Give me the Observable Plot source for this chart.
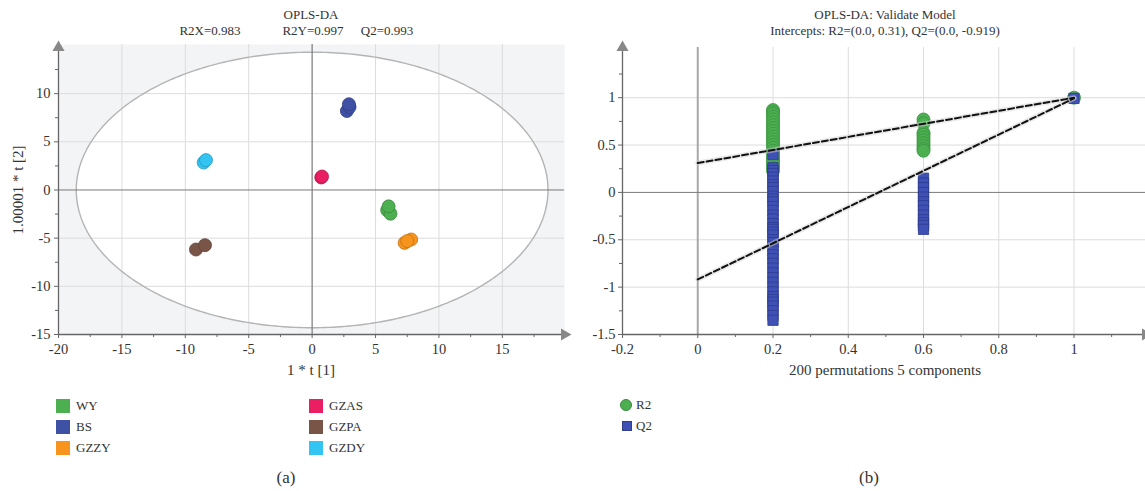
<!DOCTYPE html>
<html><head><meta charset="utf-8">
<script src="https://cdn.jsdelivr.net/npm/d3@7"></script>
<script src="https://cdn.jsdelivr.net/npm/@observablehq/plot@0.6"></script>
<style>
body{margin:0;background:#fff;font-family:"Liberation Serif",serif;color:#333;}
#wrap{position:relative;width:1145px;height:491px;overflow:hidden;}
#wrap svg, #wrap svg text{font-family:"Liberation Serif",serif !important;}
.abs{position:absolute;white-space:nowrap;line-height:1;}
.c{transform:translate(-50%,-50%);}
.sq{position:absolute;width:14px;height:14px;}
</style></head><body><div id="wrap"></div>
<script>
// ---------- Panel (a): OPLS-DA score plot ----------
const groups = ["WY", "BS", "GZZY", "GZAS", "GZPA", "GZDY"];
const groupColors = ["#4caf50", "#3f51a5", "#f7941d", "#e91e63", "#795548", "#33c4f2"];
const scoreGroup = ["BS","BS","BS","GZDY","GZDY","GZAS","GZAS","WY","WY","WY","GZZY","GZZY","GZZY","GZPA","GZPA"];
const scoreT1 =    [2.74, 2.95, 2.9, -8.55, -8.37, 0.72, 0.78, 5.92, 6.18, 6.03, 7.29, 7.81, 7.5, -9.16, -8.45];
const scoreT2 =    [8.2, 8.6, 8.9, 2.85, 3.1, 1.3, 1.4, -2.1, -2.46, -1.7, -5.49, -5.14, -5.3, -6.18, -5.73];
const ellipseA = 18.6, ellipseB = 14.3;
const xTicksA = [-20, -15, -10, -5, 0, 5, 10, 15];
const xMinorA = [-17.5, -12.5, -7.5, -2.5, 2.5, 7.5, 12.5, 17.5];
const yTicksA = [-15, -10, -5, 0, 5, 10];
const yMinorA = [-12.5, -7.5, -2.5, 2.5, 7.5, 12.5];

// ---------- Panel (b): permutation validation ----------
const r2At02 = [0.87, 0.85, 0.83, 0.80, 0.77, 0.74, 0.71, 0.68, 0.65, 0.62, 0.59, 0.56, 0.53, 0.50, 0.47, 0.44, 0.41, 0.38, 0.35, 0.32, 0.29, 0.26, 0.23];
const r2At06 = [0.77, 0.73, 0.63, 0.61, 0.58, 0.55, 0.52, 0.49, 0.46, 0.44];
const q2At02 = [0.40, 0.26, 0.23, 0.20, 0.16, 0.12, 0.08, 0.05, 0.01, -0.04, -0.07, -0.10, -0.15, -0.19, -0.24, -0.28, -0.33, -0.37, -0.39, -0.42, -0.45, -0.50, -0.53, -0.57, -0.62, -0.66, -0.70, -0.75, -0.80, -0.85, -0.90, -0.95, -1.00, -1.05, -1.10, -1.13, -1.16, -1.20, -1.25, -1.30, -1.35];
const q2At06 = [0.15, 0.10, 0.05, 0.0, -0.05, -0.10, -0.14, -0.19, -0.24, -0.29, -0.32, -0.35, -0.39];
const origR2 = 1.0, origQ2 = 0.993;
const r2Intercept = 0.31, q2Intercept = -0.919;
const xTicksB = [-0.2, 0, 0.2, 0.4, 0.6, 0.8, 1];
const xMinorB = [-0.1, 0.1, 0.3, 0.5, 0.7, 0.9, 1.1];
const yTicksB = [-1.5, -1, -0.5, 0, 0.5, 1];
const yMinorB = [-1.25, -0.75, -0.25, 0.25, 0.75, 1.25];

const wrap = document.getElementById("wrap");
const font = "font-family: 'Liberation Serif', serif; font-size: 14px; color: #333; background: transparent; overflow: visible;";

// table for (a)
const scores = scoreGroup.map((g, i) => ({group: g, t1: scoreT1[i], t2: scoreT2[i]}));
const colorOf = g => groupColors[groups.indexOf(g)];
const ang = d3.range(0, 181).map(k => k * Math.PI / 180);
const ellUpper = ang.map(t => ({x: ellipseA * Math.cos(t), y1: -ellipseB * Math.sin(t), y2: ellipseB * Math.sin(t)}));
const ellLoop = d3.range(0, 361).map(k => ({x: ellipseA * Math.cos(k * Math.PI / 180), y: ellipseB * Math.sin(k * Math.PI / 180)}));

const xMaxA = 19.9, yTopA = 15.1, yArrowA = 14.8;
const plotA = Plot.plot({
  width: 570, height: 390, marginLeft: 58, marginRight: 6, marginTop: 44, marginBottom: 56,
  x: {domain: [-20, xMaxA]}, y: {domain: [-15, yTopA]},
  style: font,
  marks: [
    Plot.frame({fill: "#f3f4f6", stroke: null}),
    Plot.areaY(ellUpper, {x: "x", y1: "y1", y2: "y2", fill: "white"}),
    Plot.ruleX(xTicksA.filter(d => d !== 0 && d !== -20), {stroke: "#dcdcdc", strokeWidth: 1}),
    Plot.ruleY(yTicksA.filter(d => d !== 0 && d !== -15), {stroke: "#dcdcdc", strokeWidth: 1}),
    Plot.line(ellLoop, {x: "x", y: "y", stroke: "#b4b4b4", strokeWidth: 1.4}),
    Plot.ruleX([0], {stroke: "#7a7a7a", strokeWidth: 1.2}),
    Plot.ruleY([0], {stroke: "#7a7a7a", strokeWidth: 1}),
    Plot.ruleY([-15], {stroke: "#666", strokeWidth: 1.3}),
    Plot.ruleX([-20], {y1: -15, y2: yArrowA, stroke: "#666", strokeWidth: 1.3}),
    Plot.dot([[xMaxA, -15]], {x: d => d[0], y: d => d[1], symbol: "triangle", rotate: 90, r: 4.5, fill: "#888", stroke: null}),
    Plot.dot([[-20, yArrowA]], {x: d => d[0], y: d => d[1], symbol: "triangle", r: 4.5, fill: "#888", stroke: null}),
    Plot.axisX(xTicksA, {tickSize: 4, tickPadding: 5, tickFormat: d => String(d), label: null, stroke: "#666", fontSize: 14.5}),
    Plot.axisX(xMinorA, {tickSize: 3, tickFormat: () => "", label: null, stroke: "#666"}),
    Plot.axisY(yTicksA, {tickSize: 4, tickPadding: 4, tickFormat: d => String(d), label: null, stroke: "#666", fontSize: 14.5}),
    Plot.axisY(yMinorA, {tickSize: 3, tickFormat: () => "", label: null, stroke: "#666"}),
    Plot.dot(scores, {x: "t1", y: "t2", r: 6.5, fill: d => colorOf(d.group), stroke: d => d3.color(colorOf(d.group)).darker(0.7).formatHex(), strokeWidth: 0.8})
  ]
});
plotA.style.position = "absolute"; plotA.style.left = "0px"; plotA.style.top = "0px";
wrap.appendChild(plotA);

// table for (b)
const perm = [];
r2At02.forEach(v => perm.push({x: 0.2, y: v, kind: "R2"}));
r2At06.forEach(v => perm.push({x: 0.6, y: v, kind: "R2"}));
perm.push({x: 1, y: origR2, kind: "R2"});
const permQ = [];
q2At02.forEach(v => permQ.push({x: 0.2, y: v, kind: "Q2"}));
q2At06.forEach(v => permQ.push({x: 0.6, y: v, kind: "Q2"}));
permQ.push({x: 1, y: origQ2, kind: "Q2"});
const r2Line = [{x: 0, y: r2Intercept}, {x: 1, y: origR2}];
const q2Line = [{x: 0, y: q2Intercept}, {x: 1, y: origQ2}];

const xMaxB = 1.19, yMaxB = 1.53;
const plotB = Plot.plot({
  width: 585, height: 390, marginLeft: 62, marginRight: 0, marginTop: 47, marginBottom: 56,
  x: {domain: [-0.2, xMaxB]}, y: {domain: [-1.5, yMaxB]},
  style: font,
  marks: [
    Plot.ruleX(xTicksB.filter(d => d > 0), {stroke: "#dcdcdc"}),
    Plot.ruleY(yTicksB.filter(d => d !== 0 && d !== -1.5), {stroke: "#dcdcdc"}),
    Plot.ruleX([0], {stroke: "#a8a8a8", strokeWidth: 2}),
    Plot.ruleY([0], {stroke: "#7a7a7a", strokeWidth: 1}),
    Plot.ruleY([-1.5], {stroke: "#666", strokeWidth: 1.3}),
    Plot.ruleX([-0.2], {stroke: "#666", strokeWidth: 1.3}),
    Plot.dot([[xMaxB, -1.5]], {x: d => d[0], y: d => d[1], symbol: "triangle", rotate: 90, r: 4.5, fill: "#888", stroke: null}),
    Plot.dot([[-0.2, yMaxB]], {x: d => d[0], y: d => d[1], symbol: "triangle", r: 4.5, fill: "#888", stroke: null}),
    Plot.axisX(xTicksB, {tickSize: 4, tickPadding: 5, tickFormat: d => String(d), label: null, stroke: "#666", fontSize: 14.5}),
    Plot.axisX(xMinorB, {tickSize: 3, tickFormat: () => "", label: null, stroke: "#666"}),
    Plot.axisY(yTicksB, {tickSize: 4, tickPadding: 3, tickFormat: d => String(d), label: null, stroke: "#666", fontSize: 14.5}),
    Plot.axisY(yMinorB, {tickSize: 3, tickFormat: () => "", label: null, stroke: "#666"}),
    Plot.dot(perm, {x: "x", y: "y", r: 6.5, fill: "#4caf50", stroke: "#3a9440", strokeWidth: 0.8}),
    Plot.dot(permQ, {x: "x", y: "y", symbol: "square", r: 5.8, fill: "#3f51b5", stroke: "#2d3c8e", strokeWidth: 0.8}),
    Plot.line(r2Line, {x: "x", y: "y", stroke: "#d4d4d4", strokeWidth: 5, strokeOpacity: 0.5}),
    Plot.line(q2Line, {x: "x", y: "y", stroke: "#d4d4d4", strokeWidth: 5, strokeOpacity: 0.5}),
    Plot.line(r2Line, {x: "x", y: "y", stroke: "#111", strokeWidth: 2, strokeDasharray: "6,3"}),
    Plot.line(q2Line, {x: "x", y: "y", stroke: "#111", strokeWidth: 2, strokeDasharray: "6,3"})
  ]
});
plotB.style.position = "absolute"; plotB.style.left = "560px"; plotB.style.top = "0px";
wrap.appendChild(plotB);

// ---------- text ----------
function txt(s, x, y, size, extra) {
  const d = document.createElement("div");
  d.className = "abs c";
  d.textContent = s;
  d.style.left = x + "px"; d.style.top = y + "px"; d.style.fontSize = size + "px";
  if (extra) Object.assign(d.style, extra);
  wrap.appendChild(d);
  return d;
}
txt("OPLS-DA", 311, 14, 13);
txt("R2X=0.983", 210, 30, 13);
txt("R2Y=0.997", 313, 30, 13);
txt("Q2=0.993", 387, 30, 13);
txt("1 * t [1]", 311, 370, 15);
const yl = txt("1.00001 * t [2]", 18, 190, 15);
yl.style.transform = "translate(-50%,-50%) rotate(-90deg)";
txt("OPLS-DA: Validate Model", 885, 14, 13);
txt("Intercepts: R2=(0.0, 0.31), Q2=(0.0, -0.919)", 885, 30, 13);
txt("200 permutations 5 components", 885, 370, 15);
txt("(a)", 286, 477, 17);
txt("(b)", 869, 477, 17);

// legend (a)
const legPos = [[56, 406], [56, 427], [56, 448], [309, 406], [309, 427], [309, 448]];
groups.forEach((g, i) => {
  const [lx, ly] = legPos[i];
  const s = document.createElement("div");
  s.className = "sq"; s.style.left = lx + "px"; s.style.top = (ly - 7) + "px"; s.style.background = groupColors[i];
  wrap.appendChild(s);
  const t = document.createElement("div");
  t.className = "abs"; t.textContent = g; t.style.left = (lx + 20) + "px"; t.style.top = (ly - 7) + "px"; t.style.fontSize = "13px";
  wrap.appendChild(t);
});
// legend (b)
const lb = [["R2", "#4caf50", "50%", 405], ["Q2", "#3f51b5", "0", 426]];
lb.forEach(([name, col, rad, ly]) => {
  const s = document.createElement("div");
  s.style.position = "absolute"; s.style.left = "620px"; s.style.top = (ly - 6) + "px";
  s.style.width = rad === "50%" ? "12px" : "10px"; s.style.height = rad === "50%" ? "12px" : "10px";
  if (rad !== "50%") { s.style.left = "622px"; s.style.top = (ly - 5) + "px"; }
  s.style.borderRadius = rad; s.style.background = col; s.style.boxSizing = "border-box";
  s.style.border = "1px solid " + d3.color(col).darker(0.7).formatHex();
  wrap.appendChild(s);
  const t = document.createElement("div");
  t.className = "abs"; t.textContent = name; t.style.left = "636px"; t.style.top = (ly - 7) + "px"; t.style.fontSize = "13px";
  wrap.appendChild(t);
});
</script>
</body></html>
